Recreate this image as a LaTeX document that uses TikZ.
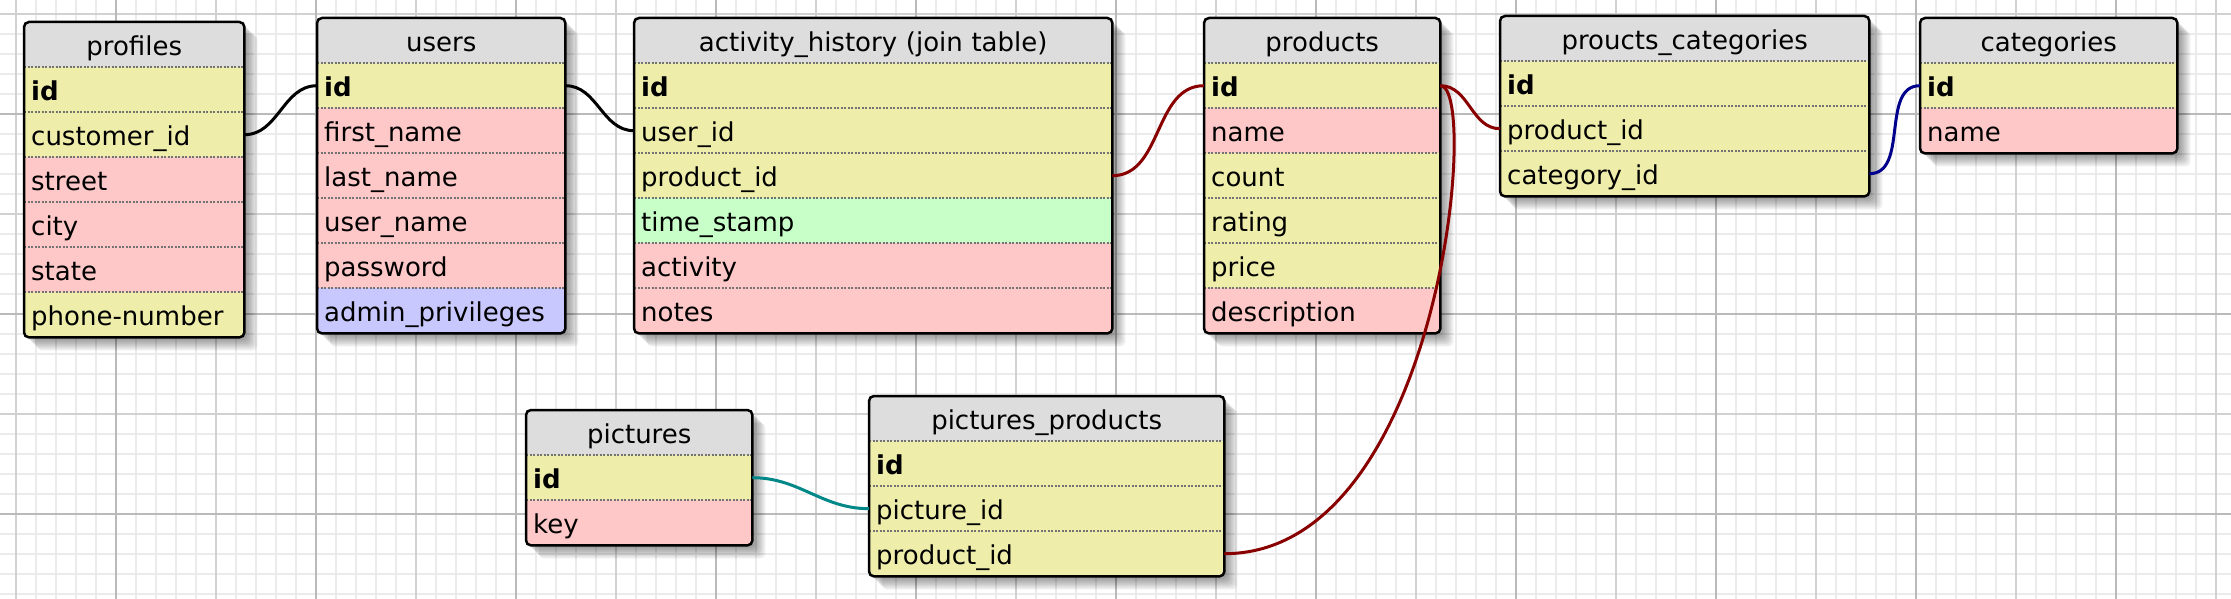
\documentclass[tikz,border=0pt]{standalone}
\usepackage{fontspec}
\setmainfont{DejaVu Sans}
\definecolor{ky}{RGB}{238,238,170}
\definecolor{rd}{RGB}{255,200,200}
\definecolor{bl}{RGB}{200,200,255}
\definecolor{gr}{RGB}{200,255,200}
\definecolor{hd}{RGB}{221,221,221}
\definecolor{lred}{RGB}{136,0,0}
\definecolor{lblue}{RGB}{0,0,140}
\definecolor{lteal}{RGB}{0,136,136}
\pgfdeclarelayer{grid}
\pgfdeclarelayer{shade}
\pgfsetlayers{grid,shade,main}
\begin{document}
\begin{tikzpicture}[x=1pt,y=-1pt,
  cell/.style={rectangle,anchor=north west,minimum height=45pt,inner xsep=7pt,inner ysep=0pt,
    text height=21pt,text depth=0pt,font=\fontsize{26}{31}\selectfont},
  head/.style={cell,fill=hd,align=center},
  field/.style={cell,fill=#1,align=left},
  sep/.style={black!55,line width=1.5pt,dash pattern=on 2pt off 1.5pt},
  frame/.style={line width=2.5pt,rounded corners=5pt},
  shd/.style={black,opacity=.07,rounded corners=5pt},
  minor/.style={line width=2pt,black!8},
  mid/.style={line width=2pt,black!18},
  major/.style={line width=2pt,black!27},
  link/.style={line width=3pt,#1},
  link/.default=black]
\useasboundingbox (0,0) rectangle (2231,599);

\begin{pgfonlayer}{grid}
\fill[white] (0,0) rectangle (2231,599);
\foreach \x in {16,36,...,2216} \draw[minor] (\x,0) -- (\x,599);
\foreach \y in {14,34,...,594} \draw[minor] (0,\y) -- (2231,\y);
\foreach \x in {16,216,...,2216} \draw[mid] (\x,0) -- (\x,599);
\foreach \y in {14,214,414} \draw[mid] (0,\y) -- (2231,\y);
\foreach \x in {116,316,...,2116} \draw[major] (\x,0) -- (\x,599);
\foreach \y in {114,314,514} \draw[major] (0,\y) -- (2231,\y);
\end{pgfonlayer}

% profiles
\node[head,text width=206pt] (profiles) at (24,22) {profiles};
\foreach \f/\c [count=\i] in {\textbf{id}/ky,customer\_id/ky,street/rd,city/rd,state/rd,phone-number/ky}
  \node[field=\c,text width=206pt] (profiles-\i) at (24,{22+45*\i}) {\f};

% users
\node[head,text width=234pt] (users) at (317,18) {users};
\foreach \f/\c [count=\i] in {\textbf{id}/ky,first\_name/rd,last\_name/rd,user\_name/rd,password/rd,admin\_privileges/bl}
  \node[field=\c,text width=234pt] (users-\i) at (317,{18+45*\i}) {\f};

% activity_history
\node[head,text width=464pt] (activity) at (634,18) {activity\_history (join table)};
\foreach \f/\c [count=\i] in {\textbf{id}/ky,user\_id/ky,product\_id/ky,time\_stamp/gr,activity/rd,notes/rd}
  \node[field=\c,text width=464pt] (activity-\i) at (634,{18+45*\i}) {\f};

% products
\node[head,text width=222pt] (products) at (1204,18) {products};
\foreach \f/\c [count=\i] in {\textbf{id}/ky,name/rd,count/ky,rating/ky,price/ky,description/rd}
  \node[field=\c,text width=222pt] (products-\i) at (1204,{18+45*\i}) {\f};

% proucts_categories
\node[head,text width=355pt] (prodcats) at (1500,16) {proucts\_categories};
\foreach \f/\c [count=\i] in {\textbf{id}/ky,product\_id/ky,category\_id/ky}
  \node[field=\c,text width=355pt] (prodcats-\i) at (1500,{16+45*\i}) {\f};

% categories
\node[head,text width=243pt] (categories) at (1920,18) {categories};
\foreach \f/\c [count=\i] in {\textbf{id}/ky,name/rd}
  \node[field=\c,text width=243pt] (categories-\i) at (1920,{18+45*\i}) {\f};

% pictures
\node[head,text width=212pt] (pictures) at (526,410) {pictures};
\foreach \f/\c [count=\i] in {\textbf{id}/ky,key/rd}
  \node[field=\c,text width=212pt] (pictures-\i) at (526,{410+45*\i}) {\f};

% pictures_products
\node[head,text width=341pt] (picprods) at (869,396) {pictures\_products};
\foreach \f/\c [count=\i] in {\textbf{id}/ky,picture\_id/ky,product\_id/ky}
  \node[field=\c,text width=341pt] (picprods-\i) at (869,{396+45*\i}) {\f};

% frames, separators, shadows
\foreach \t/\n in {profiles/6,users/6,activity/6,products/6,prodcats/3,categories/2,pictures/2,picprods/3}{
  \foreach \i in {1,...,\n} \draw[sep] (\t-\i.north west) -- (\t-\i.north east);
  \draw[frame] (\t.north west) rectangle (\t-\n.south east);
  \begin{pgfonlayer}{shade}
  \foreach \s in {3,5,...,13}
    \fill[shd] ([shift={(\s,\s)}]\t.north west) rectangle ([shift={(\s,\s)}]\t-\n.south east);
  \end{pgfonlayer}
}

% links
\draw[link] (profiles-2.east) to[out=0,in=180] (users-1.west);
\draw[link] (users-1.east) to[out=0,in=180] (activity-2.west);
\draw[link=lred] (activity-3.east) to[out=0,in=180] (products-1.west);
\draw[link=lred] (products-1.east) to[out=0,in=180] (prodcats-2.west);
\draw[link=lred] (products-1.east) .. controls +(40,0) and +(216,0) .. (picprods-3.east);
\draw[link=lblue] (prodcats-3.east) to[out=0,in=180] (categories-1.west);
\draw[link=lteal] (pictures-1.east) to[out=0,in=180] (picprods-2.west);

\end{tikzpicture}
\end{document}
